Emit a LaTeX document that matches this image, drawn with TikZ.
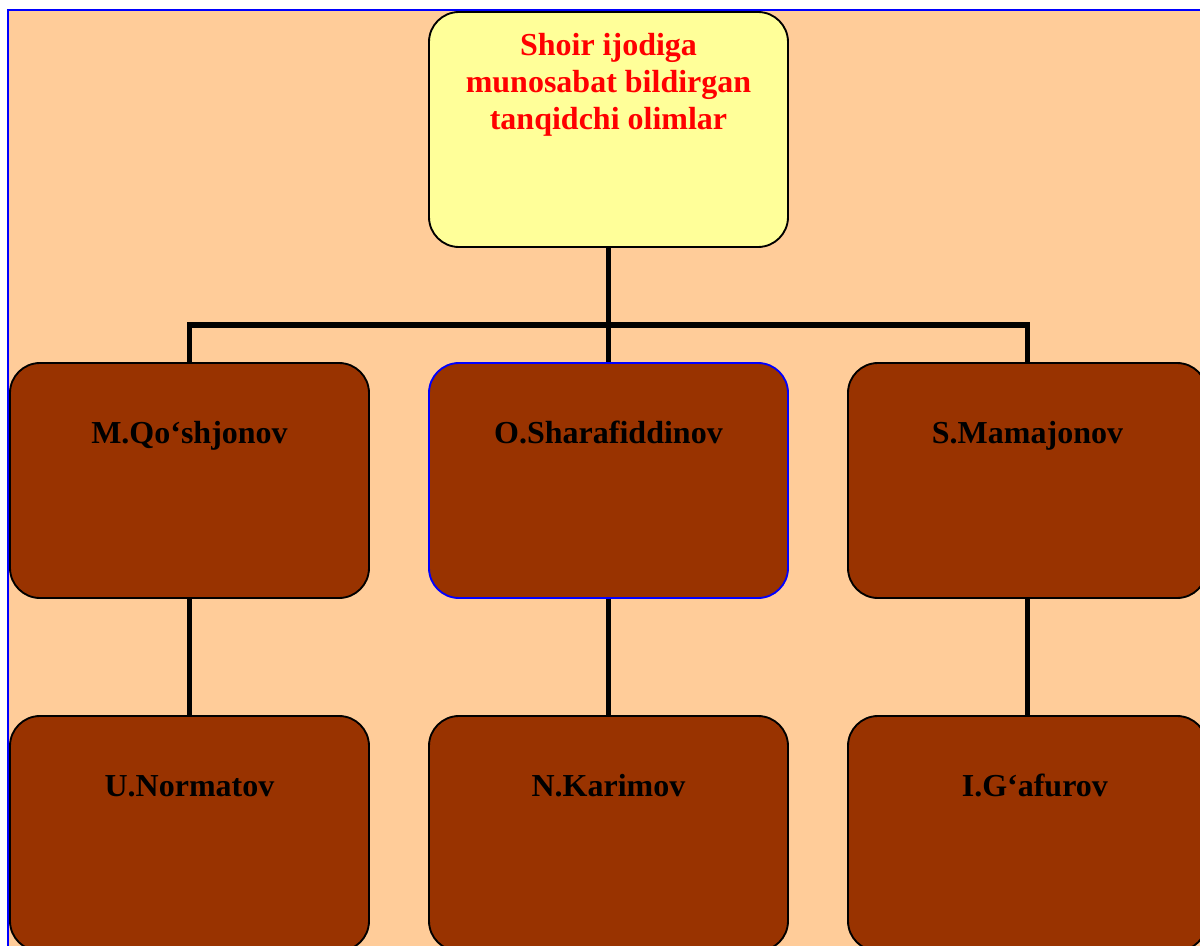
\documentclass[tikz,border=0pt]{standalone}
\usepackage{fontspec}
\setmainfont{Liberation Serif}
\usepackage{xcolor}
\usetikzlibrary{positioning,calc}
\definecolor{peachbg}{RGB}{255,204,153}
\definecolor{paleyellow}{RGB}{255,255,153}
\definecolor{rustbrown}{RGB}{153,51,0}
\definecolor{framblue}{RGB}{0,0,255}
\tikzset{
    chartbox/.style={draw=black, line width=1.4pt, rounded corners=22.5pt,
        minimum width=269.25pt, inner sep=0pt, align=center,
        font=\fontsize{24}{27.75}\selectfont\bfseries},
    namebox/.style={chartbox, fill=rustbrown, text=black,
        text height=60pt, text depth=116.25pt},
    headbox/.style={chartbox, fill=paleyellow, minimum height=176.25pt},
    conn/.style={line width=3.9pt, black}
}
\begin{document}
\begin{tikzpicture}[x=0.75pt, y=-0.75pt]
    \useasboundingbox (0,0) rectangle (1200,946);
    \clip (0,0) rectangle (1200,946);
    \fill[white] (0,0) rectangle (1200,946);
    \fill[peachbg] (9,11) rectangle (1200,946);
    \draw[framblue, line width=1.5pt] (8,946) -- (8,10) -- (1200,10);

    % head box
    \node[headbox] (head) at (608.5,129.5) {};
    \node[anchor=north, align=center, text=red, inner sep=0pt,
        font=\fontsize{24}{27.75}\selectfont\bfseries]
        (headtext) at ($(head.north)+(0,22)$)
        {Shoir ijodiga\\munosabat bildirgan\\tanqidchi olimlar};

    % critics
    \node[namebox] (qoshjonov) at (189.5,480.5) {M.Qo‘shjonov};
    \node[namebox, draw=framblue] (sharafiddinov) at (608.5,480.5) {O.Sharafiddinov};
    \node[namebox] (mamajonov) at (1027.5,480.5) {S.Mamajonov};

    \node[namebox] (normatov) at (189.5,833.5) {U.Normatov};
    \node[namebox] (karimov) at (608.5,833.5) {N.Karimov};
    \node[namebox] (gafurov) at (1027.5,833.5) {\hspace*{11pt}I.G‘afurov};

    % connectors
    \coordinate (bus) at (608.5,325);
    \draw[conn] (head.south) -- (bus);
    \draw[conn] (qoshjonov.north) |- (bus) -| (mamajonov.north);
    \draw[conn] (bus) -- (sharafiddinov.north);
    \draw[conn] (qoshjonov.south) -- (normatov.north);
    \draw[conn] (sharafiddinov.south) -- (karimov.north);
    \draw[conn] (mamajonov.south) -- (gafurov.north);
\end{tikzpicture}
\end{document}
